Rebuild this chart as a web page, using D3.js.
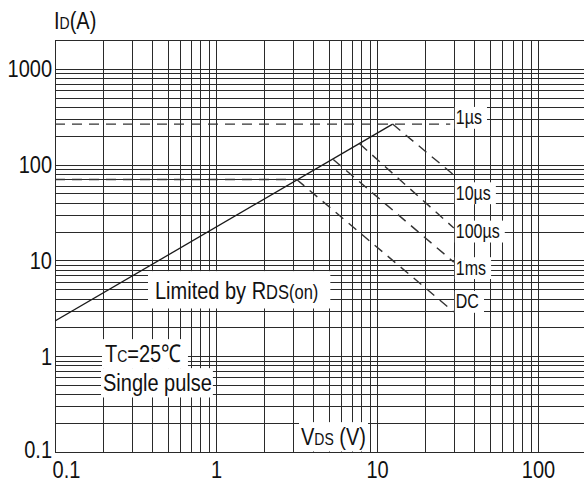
<!DOCTYPE html>
<html>
<head>
<meta charset="utf-8">
<script src="https://cdn.jsdelivr.net/npm/d3@7"></script>
<style>
body { margin: 0; background: #fff; }
svg { display: block; font-family: "Liberation Sans", Arial, sans-serif; }
</style>
</head>
<body>
<div id="chart"></div>
<script>
// safe operating area
const xTicks = [0.1, 1, 10, 100];
const yTicks = [0.1, 1, 10, 100, 1000];

const rdsLimit   = [[0.1, 2.33], [12.5, 265]];
const pulse1us   = [[0.1, 265], [28.5, 265]];
const dcCurrent  = [[0.1, 70], [3.17, 70]];
const pulse10us  = [[12.5, 265], [30, 78]];
const pulse100us = [[7.8, 165], [30, 21.8]];
const pulse1ms   = [[5.35, 113], [30, 9.6]];
const pulseDC    = [[3.17, 70], [30, 2.9]];

const curveNames   = ['1µs', '10µs', '100µs', '1ms', 'DC'];
const curveLabelAt = [300, 49, 19.5, 8.1, 3.6];   // current (A) each label sits at
const labelVoltage = 30;

const width = 584, height = 484;
const stretch = 1.22;   // scanned lettering is a bit taller than it is wide

const x = d3.scaleLog().domain([0.1, 1000]).range([55, 699]);
const y = d3.scaleLog().domain([0.1, 2000]).range([452, 40]);
const plotL = x(0.1), plotR = width, plotT = y(2000), plotB = y(0.1);

const svg = d3.select('#chart').append('svg')
              .attr('width', width)
              .attr('height', height);

svg.append('clipPath').attr('id', 'plot')
   .append('rect')
   .attr('x', plotL).attr('y', plotT - 1)
   .attr('width', plotR - plotL).attr('height', plotB - plotT + 2);

// log grid: every 1..9 of each decade
const gridX = [], gridY = [];
d3.range(-1, 3).forEach(p => d3.range(1, 10).forEach(m => gridX.push(m * Math.pow(10, p))));
d3.range(-1, 4).forEach(p => d3.range(1, 10).forEach(m => gridY.push(m * Math.pow(10, p))));

const grid = svg.append('g')
                .attr('clip-path', 'url(#plot)')
                .attr('stroke', '#2a2a2a')
                .attr('stroke-width', 1)
                .attr('shape-rendering', 'crispEdges');

grid.selectAll('line.v')
    .data(gridX.filter(v => x(v) <= plotR))
    .enter().append('line')
    .attr('class', 'v')
    .attr('x1', d => Math.round(x(d)) + 0.5).attr('x2', d => Math.round(x(d)) + 0.5)
    .attr('y1', plotT).attr('y2', plotB);

grid.selectAll('line.h')
    .data(gridY.filter(v => v <= 2000))
    .enter().append('line')
    .attr('class', 'h')
    .attr('x1', plotL).attr('x2', plotR)
    .attr('y1', d => Math.round(y(d)) + 0.5).attr('y2', d => Math.round(y(d)) + 0.5);

// curves
const line = d3.line().x(d => x(d[0])).y(d => y(d[1]));
const curves = svg.append('g').attr('clip-path', 'url(#plot)').attr('fill', 'none');

curves.append('path')
      .datum(rdsLimit)
      .attr('d', line)
      .attr('stroke', '#1a1a1a')
      .attr('stroke-width', 1.3);

curves.selectAll('path.dash')
      .data([pulse1us, dcCurrent, pulse10us, pulse100us, pulse1ms, pulseDC])
      .enter().append('path')
      .attr('class', 'dash')
      .attr('d', line)
      .attr('stroke', '#333')
      .attr('stroke-width', 1.4)
      .attr('stroke-dasharray', '10,7');

// text on a white patch, like the original sheet
function note(px, py, parts, pad) {
    const g = svg.append('g')
                 .attr('transform', `translate(${px},${py}) scale(1,${stretch})`);
    const t = g.append('text').attr('fill', '#111');
    parts.forEach(([s, size]) => t.append('tspan').attr('font-size', size).text(s));
    const b = t.node().getBBox();
    const [pl, pt, pr, pb] = pad;
    g.insert('rect', 'text')
     .attr('x', b.x - pl).attr('y', b.y - pt / stretch)
     .attr('width', b.width + pl + pr).attr('height', b.height + (pt + pb) / stretch)
     .attr('fill', '#fff');
    return g;
}

note(155, 299, [['Limited by R', 20], ['DS(on)', 16.5]], [7, 6, 12, 4]);
note(105, 362, [['T', 20], ['C', 14], ['=25℃', 20]], [3, 1, 7, 1]);
note(103, 391, [['Single pulse', 20]], [2, 1, 1, 1]);
note(301, 445, [['V', 20], ['DS', 14], [' (V)', 20]], [2, 1, 2, 1]);

curveNames.forEach((name, i) => {
    note(x(labelVoltage) + 2, y(curveLabelAt[i]) + 5.5, [[name, 16]], [1, 0, 5, 0]);
});

// axes
const axisFont = g => g.attr('font-family', '"Liberation Sans", Arial, sans-serif')
                       .attr('font-size', 20);

svg.append('g')
   .attr('transform', `translate(${plotL},0)`)
   .call(d3.axisLeft(y).tickValues(yTicks).tickSize(0).tickPadding(3).tickFormat(d3.format('')))
   .call(axisFont)
   .call(g => g.select('.domain').remove())
   .call(g => g.selectAll('text').attr('fill', '#111').attr('transform', `scale(1,${stretch})`))
   .call(g => g.selectAll('text').filter(d => d === 0.1).attr('y', -2));

svg.append('g')
   .attr('transform', `translate(0,${plotB})`)
   .call(d3.axisBottom(x).tickValues(xTicks).tickSize(0).tickPadding(7).tickFormat(d3.format('')))
   .call(axisFont)
   .call(g => g.select('.domain').remove())
   .call(g => g.selectAll('text').attr('fill', '#111').attr('transform', `scale(1,${stretch})`))
   .call(g => g.selectAll('text').filter(d => d === 0.1).attr('dx', 11));

// y axis title
const title = svg.append('text')
                 .attr('transform', `translate(54,29) scale(1,${stretch})`)
                 .attr('fill', '#111');
title.append('tspan').attr('font-size', 20).text('I');
title.append('tspan').attr('font-size', 14).text('D');
title.append('tspan').attr('font-size', 20).text('(A)');
</script>
</body>
</html>
